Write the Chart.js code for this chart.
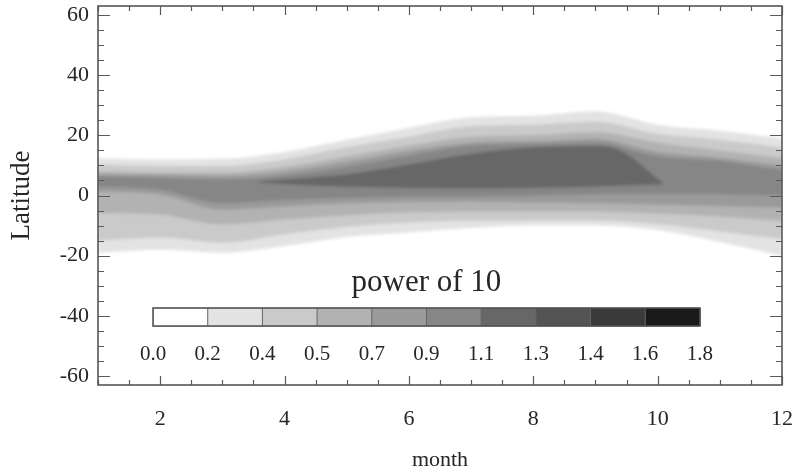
<!DOCTYPE html>
<html><head><meta charset="utf-8">
<script src="https://cdn.jsdelivr.net/npm/chart.js@4.4.1/dist/chart.umd.min.js"></script>
<style>html,body{margin:0;padding:0;background:#fff;}#wrap{width:798px;height:472px;}</style>
</head><body><div id="wrap"><canvas id="c" width="798" height="472"></canvas></div>
<script>
// ---- data (latitude of contour boundaries, degrees) ----
const months = [1,2,3,4,5,6,7,8,9,10,11,12];
const level1Upper = [12.4, 12.0, 12.2, 14.5, 18.5, 22.5, 26.0, 26.5, 28.0, 23.5, 21.5, 19.0];
const level1Lower = [-19.0, -18.0, -19.0, -16.8, -13.8, -12.3, -10.8, -10.0, -10.0, -11.5, -15.5, -20.0];
const level2Upper = [10.2, 9.8, 9.8, 12.0, 16.0, 19.5, 23.0, 23.5, 24.5, 20.5, 18.5, 16.0];
const level2Lower = [-15.0, -14.0, -15.7, -12.9, -10.4, -9.0, -8.3, -8.3, -8.3, -9.5, -12.0, -14.5];
const level3Upper = [8.0, 7.6, 7.6, 9.5, 13.0, 16.5, 19.5, 20.0, 21.0, 17.5, 15.0, 12.5];
const level3Lower = [-5.8, -6.3, -9.6, -8.0, -6.6, -5.6, -5.3, -5.3, -5.3, -6.0, -7.0, -8.5];
const level4Upper = [7.0, 6.8, 6.5, 8.0, 11.2, 14.8, 17.5, 18.0, 18.8, 14.5, 12.5, 10.0];
const level4Lower = [1.3, 0.3, -4.7, -3.6, -2.6, -2.2, -2.0, -2.3, -2.5, -3.0, -3.5, -4.0];
const level5Upper = [6.3, 5.8, 5.3, 6.6, 9.5, 13.2, 16.5, 17.0, 17.5, 13.0, 11.5, 8.5];
const level5Lower = [3.0, 1.9, -2.5, -1.4, -0.8, -0.4, -0.3, 0.0, 0.5, 0.5, 0.5, 0.0];
const coreMonths = [3.55, 4.2, 5.0, 6.0, 7.0, 8.0, 9.0, 9.3, 10.1];
const coreUpper  = [4.6, 5.6, 7.0, 10.3, 13.8, 16.0, 16.4, 15.8, 4.0];
const coreLower  = [4.4, 3.6, 3.0, 2.6, 2.4, 2.6, 3.0, 3.2, 3.8];

const levelColors = ['#ffffff','#e3e3e3','#cacaca','#b2b2b2','#9a9a9a','#868686','#676767','#545454','#3a3a3a','#1a1a1a'];
const levelLabels = ['0.0','0.2','0.4','0.5','0.7','0.9','1.1','1.3','1.4','1.6','1.8'];
const colorbarTitle = 'power of 10';
const xTickValues = [2,4,6,8,10,12];
const yTickValues = [-60,-40,-20,0,20,40,60];
const xTitle = 'month';
const yTitle = 'Latitude';

const FONT = '"Liberation Serif", "Times New Roman", serif';
const TEXT = '#262626';

const datasets = [];
function band(xs, up, lo, color) {
  const i = datasets.length;
  const common = {borderWidth: 0, borderColor: 'rgba(0,0,0,0)', pointRadius: 0, pointHoverRadius: 0, cubicInterpolationMode: 'monotone'};
  datasets.push(Object.assign({data: xs.map((x, k) => ({x: x, y: up[k]})), fill: i + 1, backgroundColor: color}, common));
  datasets.push(Object.assign({data: xs.map((x, k) => ({x: x, y: lo[k]})), fill: false}, common));
}
band(coreMonths, coreUpper, coreLower, levelColors[6]);
band(months, level5Upper, level5Lower, levelColors[5]);
band(months, level4Upper, level4Lower, levelColors[4]);
band(months, level3Upper, level3Lower, levelColors[3]);
band(months, level2Upper, level2Lower, levelColors[2]);
band(months, level1Upper, level1Lower, levelColors[1]);

const soften = {
  id: 'soften',
  beforeDatasetsDraw(chart) { chart.ctx.save(); chart.ctx.filter = 'blur(1.8px)'; },
  afterDatasetsDraw(chart) { chart.ctx.restore(); }
};

const frame = {
  id: 'frame',
  afterDraw(chart) {
    const {ctx, chartArea: a, scales: {x, y}} = chart;
    ctx.save();
    ctx.strokeStyle = '#5a5a5a';
    ctx.lineWidth = 1.2;
    for (let v = 1; v <= 12.001; v += 0.5) {
      const px = Math.round(x.getPixelForValue(v)) + 0.5;
      const len = xTickValues.includes(v) ? 9 : 5;
      ctx.beginPath();
      ctx.moveTo(px, a.bottom); ctx.lineTo(px, a.bottom - len);
      ctx.moveTo(px, a.top); ctx.lineTo(px, a.top + len);
      ctx.stroke();
    }
    for (let v = -60; v <= 60; v += 5) {
      const py = Math.round(y.getPixelForValue(v)) + 0.5;
      const len = yTickValues.includes(v) ? 12 : 6;
      ctx.beginPath();
      ctx.moveTo(a.left, py); ctx.lineTo(a.left + len, py);
      ctx.moveTo(a.right, py); ctx.lineTo(a.right - len, py);
      ctx.stroke();
    }
    ctx.lineWidth = 1.6;
    ctx.strokeStyle = '#555';
    ctx.strokeRect(a.left, a.top, a.right - a.left, a.bottom - a.top);

    // colour bar
    const x0 = x.getPixelForValue(1.885), x1 = x.getPixelForValue(10.68);
    const y0 = y.getPixelForValue(-37.4), y1 = y.getPixelForValue(-43.4);
    const n = levelColors.length, w = (x1 - x0) / n;
    for (let i = 0; i < n; i++) {
      ctx.fillStyle = levelColors[i];
      ctx.fillRect(x0 + i * w, y0, w + 0.6, y1 - y0);
    }
    ctx.strokeStyle = '#666';
    ctx.lineWidth = 1;
    for (let i = 1; i < n; i++) {
      ctx.beginPath();
      ctx.moveTo(x0 + i * w, y0); ctx.lineTo(x0 + i * w, y1);
      ctx.stroke();
    }
    ctx.lineWidth = 1.6;
    ctx.strokeStyle = '#505050';
    ctx.strokeRect(x0, y0, x1 - x0, y1 - y0);
    ctx.fillStyle = TEXT;
    ctx.textAlign = 'center';
    ctx.textBaseline = 'middle';
    ctx.font = '31px ' + FONT;
    ctx.fillText(colorbarTitle, (x0 + x1) / 2, y.getPixelForValue(-29.1));
    ctx.font = '21px ' + FONT;
    for (let i = 0; i <= n; i++) {
      ctx.fillText(levelLabels[i], x0 + i * w, y.getPixelForValue(-53.0));
    }
    ctx.restore();
  }
};

new Chart(document.getElementById('c'), {
  type: 'line',
  data: {datasets: datasets},
  plugins: [soften, frame],
  options: {
    responsive: false,
    animation: false,
    devicePixelRatio: 1,
    layout: {padding: {top: 6, right: 16, left: 0, bottom: 0}},
    plugins: {legend: {display: false}, tooltip: {enabled: false}, filler: {propagate: false}},
    scales: {
      x: {
        type: 'linear', min: 1, max: 12,
        afterBuildTicks: s => { s.ticks = xTickValues.map(v => ({value: v})); },
        afterFit: s => { s.height = 87; s.paddingLeft = 0; s.paddingRight = 0; },
        grid: {display: false, drawTicks: false},
        border: {display: false},
        ticks: {font: {family: FONT, size: 22}, color: TEXT, padding: 21, maxRotation: 0, autoSkip: false},
        title: {display: true, text: xTitle, font: {family: FONT, size: 22}, color: TEXT, padding: {top: 0, bottom: -1}}
      },
      y: {
        type: 'linear', min: -63, max: 63,
        afterBuildTicks: s => { s.ticks = yTickValues.map(v => ({value: v})); },
        afterFit: s => { s.width = 98; s.paddingTop = 0; s.paddingBottom = 0; },
        grid: {display: false, drawTicks: false},
        border: {display: false},
        ticks: {font: {family: FONT, size: 22}, color: TEXT, padding: 9, autoSkip: false},
        title: {display: true, text: yTitle, font: {family: FONT, size: 27}, color: TEXT, padding: {top: 6, bottom: 0}}
      }
    }
  }
});
</script></body></html>
